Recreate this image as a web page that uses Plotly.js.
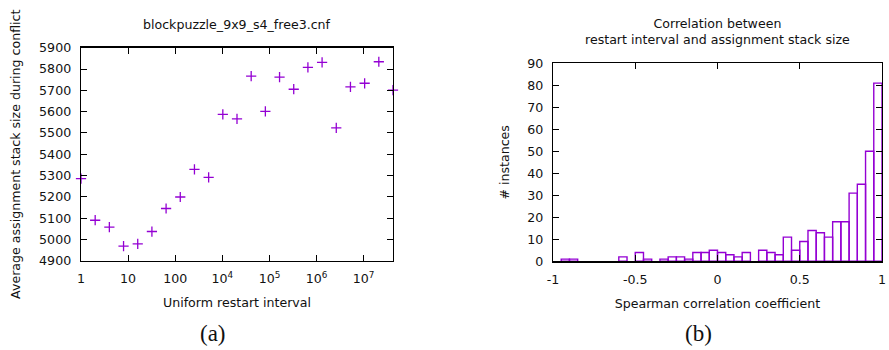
<!DOCTYPE html>
<html>
<head>
<meta charset="utf-8">
<script src="https://cdn.plot.ly/plotly-3.0.1.min.js"></script>
<style>html,body{margin:0;padding:0;background:#fff;}#chart{width:889px;height:350px;}</style>
</head>
<body>
<div id="chart"></div>
<script>
// Panel (a): uniform restart interval vs average assignment stack size
const restartIntervals = [1, 2, 4, 8, 16, 32, 64, 128, 256, 512, 1024, 2048, 4096, 8192, 16384, 32768, 65536, 131072, 262144, 524288, 1048576, 2097152, 4194304];
const avgStackSize = [5285, 5090, 5058, 4968, 4979, 5037, 5145, 5199, 5329, 5291, 5587, 5566, 5767, 5601, 5762, 5705, 5808, 5831, 5524, 5716, 5733, 5834, 5701];
const xTickVals = [1, 10, 100, 1000, 10000, 100000, 1000000];
const xTickText = ["1", "10", "100", "10<sup>4</sup>", "10<sup>5</sup>", "10<sup>6</sup>", "10<sup>7</sup>"];
const yTickVals = [4900, 5000, 5100, 5200, 5300, 5400, 5500, 5600, 5700, 5800, 5900];

// Panel (b): histogram of Spearman correlation coefficients (bin width 0.05)
const binCenters = [-0.925, -0.875, -0.575, -0.475, -0.425, -0.325, -0.275, -0.225, -0.175, -0.125, -0.075, -0.025, 0.025, 0.075, 0.125, 0.175, 0.275, 0.325, 0.375, 0.425, 0.475, 0.525, 0.575, 0.625, 0.675, 0.725, 0.775, 0.825, 0.875, 0.925, 0.975];
const binCounts  = [1, 1, 2, 4, 1, 1, 2, 2, 1, 4, 4, 5, 4, 3, 2, 4, 5, 4, 3, 11, 5, 9, 14, 13, 11, 18, 18, 31, 35, 50, 81];
const binWidth = 0.05;

const purple = '#9400d3';
const font = "DejaVu Sans, Verdana, sans-serif";
const serif = "Liberation Serif, DejaVu Serif, serif";
const W = 889, H = 350;
const px = v => v / W;
const py = v => 1 - v / H;

const traces = [
  {
    type: 'scatter', mode: 'markers',
    x: restartIntervals, y: avgStackSize,
    xaxis: 'x', yaxis: 'y',
    marker: {symbol: 'cross-thin', size: 7.3, color: purple, line: {width: 1.3, color: purple}},
    cliponaxis: false, showlegend: false, hoverinfo: 'x+y'
  },
  {
    type: 'bar',
    x: binCenters, y: binCounts, width: binWidth,
    xaxis: 'x2', yaxis: 'y2',
    marker: {color: 'rgba(255,255,255,0)', line: {color: purple, width: 1.4}},
    showlegend: false
  }
];

const axisCommon = {
  showline: true, linecolor: '#000', linewidth: 1.3,
  ticks: 'inside', ticklen: 6, tickwidth: 1, tickcolor: '#000',
  mirror: 'allticks', showgrid: false, zeroline: false,
  tickfont: {family: font, size: 12.6, color: '#111'},
  ticklabelstandoff: 6
};

const layout = {
  width: W, height: H,
  margin: {l: 0, r: 0, t: 0, b: 0},
  paper_bgcolor: '#fff', plot_bgcolor: '#fff',
  font: {family: font, color: '#111'},
  showlegend: false,
  bargap: 0,
  xaxis: Object.assign({}, axisCommon, {
    domain: [px(81), px(393)], anchor: 'y',
    type: 'log', range: [0, Math.log10(4194304)],
    tickmode: 'array', tickvals: xTickVals, ticktext: xTickText,
    title: {text: 'Uniform restart interval', font: {family: font, size: 12.6, color: '#111'}, standoff: 13}
  }),
  yaxis: Object.assign({}, axisCommon, {
    domain: [py(260.7), py(47.7)], anchor: 'x',
    range: [4900, 5900], tickmode: 'array', tickvals: yTickVals,
    title: {text: 'Average assignment stack size during conflict', font: {family: font, size: 12.6, color: '#111'}, standoff: 15}
  }),
  xaxis2: Object.assign({}, axisCommon, {
    domain: [px(553), px(882)], anchor: 'y2',
    range: [-1, 1], tickmode: 'array', tickvals: [-1, -0.5, 0, 0.5, 1], ticktext: ['-1', '-0.5', '0', '0.5', '1'],
    title: {text: 'Spearman correlation coefficient', font: {family: font, size: 12.6, color: '#111'}, standoff: 13}
  }),
  yaxis2: Object.assign({}, axisCommon, {
    domain: [py(261.3), py(63.3)], anchor: 'x2',
    range: [0, 90], tickmode: 'array', tickvals: [0, 10, 20, 30, 40, 50, 60, 70, 80, 90],
    title: {text: '# instances', font: {family: font, size: 12.6, color: '#111'}, standoff: 14}
  }),
  annotations: [
    {text: 'blockpuzzle_9x9_s4_free3.cnf', xref: 'paper', yref: 'paper', x: px(237), y: py(24),
     xanchor: 'center', yanchor: 'middle', showarrow: false, font: {family: font, size: 12.6, color: '#111'}},
    {text: 'Correlation between<br>restart interval and assignment stack size', xref: 'paper', yref: 'paper', x: px(717), y: py(32),
     xanchor: 'center', yanchor: 'middle', showarrow: false, font: {family: font, size: 12.6, color: '#111'}},
    {text: '(a)', xref: 'paper', yref: 'paper', x: px(213), y: py(333),
     xanchor: 'center', yanchor: 'middle', showarrow: false, font: {family: serif, size: 23, color: '#111'}},
    {text: '(b)', xref: 'paper', yref: 'paper', x: px(698), y: py(333),
     xanchor: 'center', yanchor: 'middle', showarrow: false, font: {family: serif, size: 23, color: '#111'}}
  ]
};

Plotly.newPlot('chart', traces, layout, {displayModeBar: false, staticPlot: true});
</script>
</body>
</html>
